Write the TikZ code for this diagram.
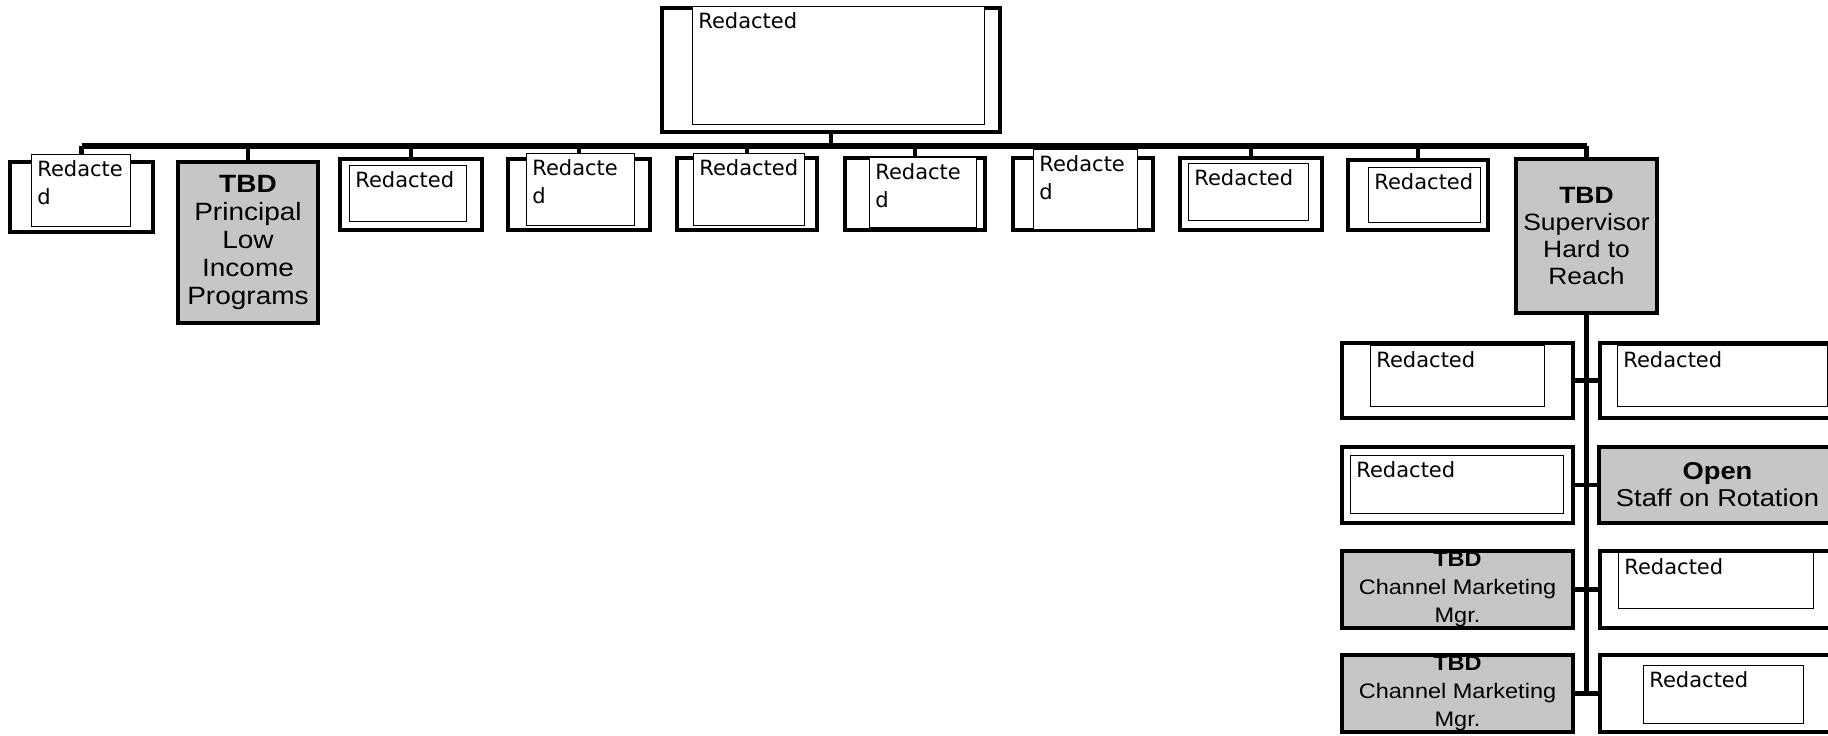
\documentclass[tikz,border=0pt]{standalone}
\usepackage{fontspec}
\setmainfont{DejaVu Sans}
\newfontfamily\greyfont[FakeStretch=1.12]{Liberation Sans}
\usepackage{xcolor}
\definecolor{tbdgrey}{RGB}{198,198,198}
\usetikzlibrary{positioning}

\begin{document}
\begin{tikzpicture}[x=0.5pt,y=-0.5pt,
		box/.style={draw,line width=2.4pt,inner sep=0pt,outer sep=0pt},
		inbox/.style={draw,fill=white,line width=0.5pt,inner sep=0pt,outer sep=0pt},
		redtxt/.style={anchor=north west,inner sep=3pt,align=left,font=\fontsize{10.5}{14}\selectfont},
		tbd/.style={box,fill=tbdgrey,align=center},
		link/.style={line width=2.4pt}]
	\useasboundingbox (0,0) rectangle (1828,735);

	% frames
	\node[box,minimum width=169pt,minimum height=62pt] (boss) at (831,70) {};
	\node[box,minimum width=71.5pt,minimum height=35pt] (b1) at (81.5,197) {};
	\node[tbd,minimum width=70pt,minimum height=80.5pt,font=\greyfont\fontsize{12.5}{14}\selectfont] (b2) at (248,242.5) {\textbf{TBD}\\Principal\\Low\\Income\\Programs};
	\node[box,minimum width=71pt,minimum height=35.5pt] (b3) at (411,194.5) {};
	\node[box,minimum width=71pt,minimum height=35.5pt] (b4) at (579,194.5) {};
	\node[box,minimum width=70pt,minimum height=36pt] (b5) at (747,194) {};
	\node[box,minimum width=70pt,minimum height=36pt] (b6) at (915,194) {};
	\node[box,minimum width=70pt,minimum height=36pt] (b7) at (1083,194) {};
	\node[box,minimum width=71pt,minimum height=36pt] (b8) at (1251,194) {};
	\node[box,minimum width=70pt,minimum height=35pt] (b9) at (1418,195) {};
	\node[tbd,minimum width=70.5pt,minimum height=77pt,font=\greyfont\fontsize{11.8}{13.5}\selectfont] (b10) at (1586.5,236) {\textbf{TBD}\\Supervisor\\Hard to\\Reach};

	\node[box,minimum width=115.5pt,minimum height=37.5pt] (r1l) at (1457.5,380.5) {};
	\node[box,minimum width=120.5pt,minimum height=37.5pt] (r1r) at (1720.5,380.5) {};
	\node[box,minimum width=115.5pt,minimum height=38pt] (r2l) at (1457.5,485) {};
	\node[tbd,minimum width=118.5pt,minimum height=38pt,font=\greyfont\fontsize{12.2}{13.5}\selectfont] (r2r) at (1717.5,485) {\textbf{Open}\\Staff on Rotation};
	\node[tbd,minimum width=115.5pt,minimum height=38.5pt,font=\greyfont\fontsize{10.5}{14}\selectfont] (r3l) at (1457.5,589.5) {\textbf{TBD}\\Channel Marketing\\Mgr.};
	\node[box,minimum width=120.5pt,minimum height=38.5pt] (r3r) at (1720.5,589.5) {};
	\node[tbd,minimum width=115.5pt,minimum height=38.5pt,font=\greyfont\fontsize{10.5}{14}\selectfont] (r4l) at (1457.5,693.5) {\textbf{TBD}\\Channel Marketing\\Mgr.};
	\node[box,minimum width=120.5pt,minimum height=38.5pt] (r4r) at (1720.5,693.5) {};

	% lines
	\coordinate (bar) at (831,146);
	\draw[link] (boss.south) -- (bar);
	\draw[line width=2.8pt] (b1.north |- bar) -- (b10.north |- bar);
	\draw[link] (b1.north |- bar) -- (b1.north)
		(b2.north |- bar) -- (b2.north)
		(b3.north |- bar) -- (b3.north)
		(b4.north |- bar) -- (b4.north)
		(b5.north |- bar) -- (b5.north)
		(b6.north |- bar) -- (b6.north)
		(b7.north |- bar) -- (b7.north)
		(b8.north |- bar) -- (b8.north)
		(b9.north |- bar) -- (b9.north)
		(b10.north |- bar) -- (b10.north);
	\draw[link] (b10.south) -- (b10.south |- r4l.east);
	\draw[link] (r1l.east) -- (r1r.west)
		(r2l.east) -- (r2r.west)
		(r3l.east) -- (r3r.west)
		(r4l.east) -- (r4r.west);

	% redacted boxes
	\node[inbox,minimum width=146pt,minimum height=59pt] (bossIn) at (838,65) {};
	\node[redtxt] (bossTxt) at (bossIn.north west) {Redacted};
	\node[inbox,minimum width=49.5pt,minimum height=36pt] (b1In) at (80.5,190) {};
	\node[redtxt] (b1Txt) at (b1In.north west) {Redacte\\d};
	\node[inbox,minimum width=58.5pt,minimum height=28pt] (b3In) at (407.5,193) {};
	\node[redtxt] (b3Txt) at (b3In.north west) {Redacted};
	\node[inbox,minimum width=54pt,minimum height=36pt] (b4In) at (580,189) {};
	\node[redtxt] (b4Txt) at (b4In.north west) {Redacte\\d};
	\node[inbox,minimum width=55.5pt,minimum height=36pt] (b5In) at (748.5,189) {};
	\node[redtxt] (b5Txt) at (b5In.north west) {Redacted};
	\node[inbox,minimum width=53.5pt,minimum height=35pt] (b6In) at (922.5,192) {};
	\node[redtxt] (b6Txt) at (b6In.north west) {Redacte\\d};
	\node[inbox,minimum width=52pt,minimum height=40pt] (b7In) at (1085,189) {};
	\node[redtxt] (b7Txt) at (b7In.north west) {Redacte\\d};
	\node[inbox,minimum width=60pt,minimum height=28.5pt] (b8In) at (1248,191.5) {};
	\node[redtxt] (b8Txt) at (b8In.north west) {Redacted};
	\node[inbox,minimum width=56pt,minimum height=27.5pt] (b9In) at (1424,194.5) {};
	\node[redtxt] (b9Txt) at (b9In.north west) {Redacted};

	\node[inbox,minimum width=87pt,minimum height=30.5pt] (r1lIn) at (1457,375.5) {};
	\node[redtxt] (r1lTxt) at (r1lIn.north west) {Redacted};
	\node[inbox,minimum width=105pt,minimum height=30.5pt] (r1rIn) at (1722,375.5) {};
	\node[redtxt] (r1rTxt) at (r1rIn.north west) {Redacted};
	\node[inbox,minimum width=106.5pt,minimum height=29pt] (r2lIn) at (1456.5,484) {};
	\node[redtxt] (r2lTxt) at (r2lIn.north west) {Redacted};
	\node[inbox,minimum width=97.5pt,minimum height=28pt] (r3rIn) at (1715.5,580) {};
	\node[redtxt] (r3rTxt) at (r3rIn.north west) {Redacted};
	\node[inbox,minimum width=80pt,minimum height=29pt] (r4rIn) at (1723,694) {};
	\node[redtxt] (r4rTxt) at (r4rIn.north west) {Redacted};
\end{tikzpicture}
\end{document}
